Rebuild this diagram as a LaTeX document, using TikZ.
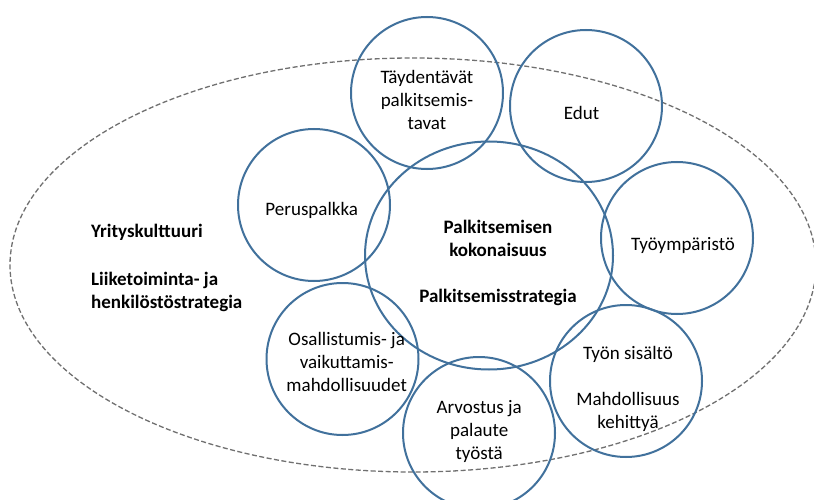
\documentclass[tikz,border=0pt]{standalone}
\usepackage{fontspec}
\setmainfont{Carlito}
\usetikzlibrary{shapes.geometric}
\definecolor{ringblue}{HTML}{41719C}
\definecolor{dashgray}{HTML}{707070}
\tikzset{
  ring/.style={draw=ringblue, line width=2pt, circle, inner sep=0pt, minimum size=152pt},
  txt/.style={font=\fontsize{19}{23}\selectfont, align=center, inner sep=0pt, text=black},
  btxt/.style={txt, font=\fontsize{19}{23}\selectfont\bfseries},
}
\begin{document}
\begin{tikzpicture}[x=1pt,y=-1pt]
\useasboundingbox (0,0) rectangle (814,500);
\clip (0,0) rectangle (814,500);
\fill[white] (0,0) rectangle (814,500);
% outer dashed ellipse
\node[draw=dashgray, line width=1.3pt, dash pattern=on 5pt off 2.5pt, ellipse, inner sep=0pt,
      minimum width=806pt, minimum height=414pt] (culture) at (413,265) {};
% central ellipse
\node[draw=ringblue, line width=2pt, ellipse, inner sep=0pt, minimum width=248pt, minimum height=228pt] (core) at (489,255.5) {};
% ring circles
\node[ring] (tay) at (427,93) {};
\node[ring] (edut) at (586,106) {};
\node[ring] (perus) at (314,205) {};
\node[ring] (tyoymp) at (677,238) {};
\node[ring] (osall) at (342.5,359) {};
\node[ring] (sisalto) at (626,381) {};
\node[ring] (arvostus) at (479,433) {};
% texts
\node[txt] (tayt) at (427,99.5) {Täydentävät\\palkitsemis-\\tavat};
\node[txt, anchor=base] (edutt) at (581.5,120) {Edut};
\node[txt, anchor=base] (perust) at (311.7,215) {Peruspalkka};
\node[btxt] (coret) at (498,263.3) {Palkitsemisen\\kokonaisuus\\[23pt]Palkitsemisstrategia};
\node[txt, anchor=base] (tyoympt) at (683,250.5) {Työympäristö};
\node[btxt, anchor=base west] (yk) at (91,237) {Yrityskulttuuri};
\node[btxt, align=left, anchor=west] (lht) at (91,292) {Liiketoiminta- ja\\henkilöstöstrategia};
\node[txt] (osallt) at (346.7,362) {Osallistumis- ja\\vaikuttamis-\\mahdollisuudet};
\node[txt] (arvostust) at (479.2,431) {Arvostus ja\\palaute\\työstä};
\node[txt] (sisaltot) at (628,388.8) {Työn sisältö\\[23pt]Mahdollisuus\\kehittyä};
\end{tikzpicture}
\end{document}
